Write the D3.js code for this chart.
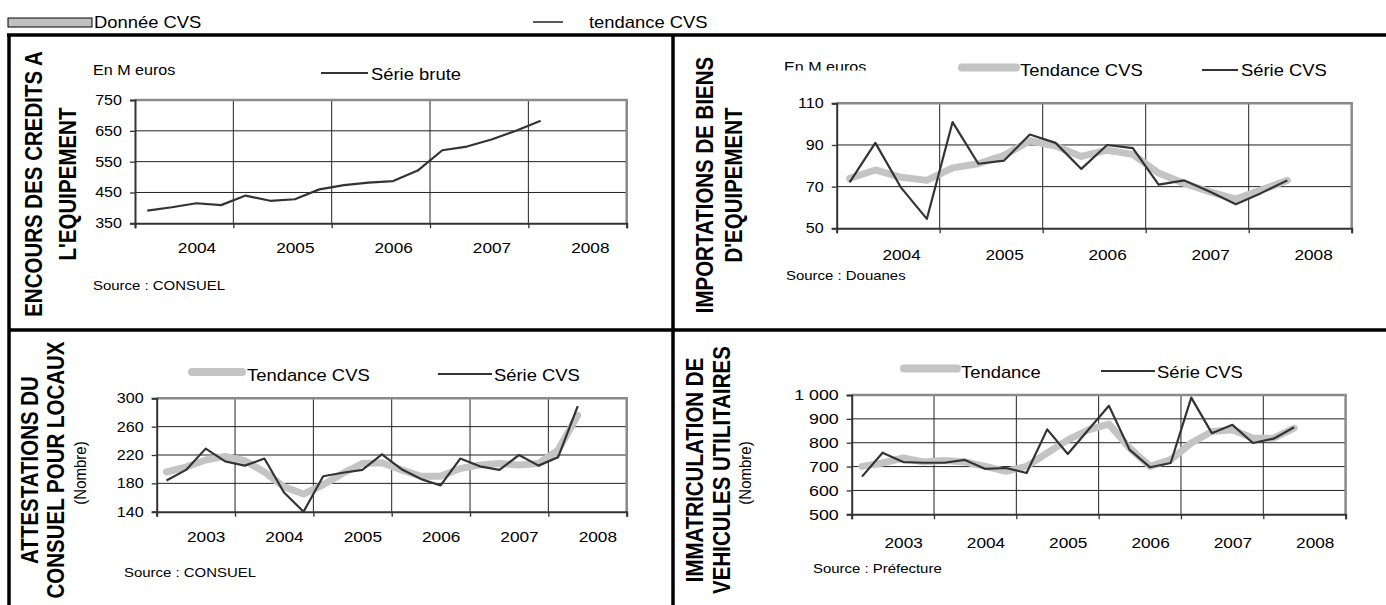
<!DOCTYPE html>
<html>
<head>
<meta charset="utf-8">
<title>Indicateurs biens d'équipement</title>
<script src="https://d3js.org/d3.v7.min.js"></script>
<style>
  body { margin: 0; background: #fff; }
  svg text { font-family: "Liberation Sans", Arial, sans-serif; fill: #000; }
</style>
</head>
<body>
<svg width="1386" height="605"></svg>
<script>
// valeurs trimestrielles
const yearsEncours = ["2004", "2005", "2006", "2007", "2008"];
const encoursBrute = [391, 402, 415, 409, 440, 423, 428, 460, 474, 482, 487, 521, 587, 599, 622, 650, 683];
const encoursTicks = [350, 450, 550, 650, 750];

const yearsImport = ["2004", "2005", "2006", "2007", "2008"];
const importCvs = [72, 91, 69.5, 54.5, 101, 81, 82.5, 95, 91, 78.5, 90, 88.5, 71, 73, 67.5, 61.5, 67, 73];
const importTendance = [74, 78, 74.5, 73, 79, 81, 85, 92, 89.5, 84.5, 87.5, 85.5, 76.5, 71.5, 67.5, 64, 68.5, 73];
const importTicks = [50, 70, 90, 110];

const yearsConsuel = ["2003", "2004", "2005", "2006", "2007", "2008"];
const consuelCvs = [184, 199, 229, 211, 205, 215, 167, 140, 190, 195, 199, 221, 200, 186, 177, 215, 204, 199, 220, 205, 217, 289];
const consuelTendance = [196, 203, 213, 218, 212, 196, 175, 165, 178, 194, 208, 209, 199, 190, 190, 201, 206, 208, 206, 208, 227, 276];
const consuelTicks = [140, 180, 220, 260, 300];

const yearsImmat = ["2003", "2004", "2005", "2006", "2007", "2008"];
const immatCvs = [658, 758, 719, 716, 716, 728, 690, 694, 673, 856, 753, 854, 955, 771, 697, 715, 989, 840, 875, 799, 817, 865];
const immatTendance = [701, 715, 736, 719, 725, 719, 701, 680, 701, 757, 812, 854, 878, 778, 701, 729, 799, 847, 854, 819, 819, 861];
const immatTicks = [500, 600, 700, 800, 900, 1000];

// the scanned page is a little wider than tall, text looks stretched
const SX = 1.15;
const FONT_TITLE = 20.5;

const svg = d3.select("svg");

function txt(parent, x, y, s, o) {
    o = o || {};
    let tr = "translate(" + x + "," + y + ") scale(" + SX + ",1)";
    if (o.rotate) tr += " rotate(-90)";
    return parent.append("text")
        .attr("transform", tr)
        .attr("text-anchor", o.anchor || "start")
        .attr("dy", o.dy || null)
        .style("font-size", (o.size || 14) + "px")
        .style("font-weight", o.weight || "normal")
        .text(s);
}

const spaceFmt = d => d >= 1000 ? d3.format(",")(d).replace(",", " ") : String(d);

const panels = [
    {
        cell: [9, 35, 673, 330],
        plot: { x0: 135, x1: 626.7, top: 100, bottom: 223.3 },
        years: yearsEncours, ticks: encoursTicks, tickFont: 14, labelBase: 253,
        titleY: 184,
        title: [{ t: "ENCOURS DES CREDITS A", x: 34 }, { t: "L'EQUIPEMENT", x: 68 }],
        notes: [{ t: "En M euros", x: 93, y: 75, size: 14 }, { t: "Source : CONSUEL", x: 93, y: 290, size: 13 }],
        series: [{ data: encoursBrute, kind: "cvs", name: "Série brute", lx: [321, 368], ly: 73, tx: 371, ty: 79.5 }]
    },
    {
        cell: [673, 35, 1386, 330],
        plot: { x0: 836.7, x1: 1351.7, top: 103.3, bottom: 228.3 },
        years: yearsImport, ticks: importTicks, tickFont: 14, labelBase: 260,
        titleY: 185,
        title: [{ t: "IMPORTATIONS DE BIENS", x: 705 }, { t: "D'EQUIPEMENT", x: 734 }],
        notes: [{ t: "En M euros", x: 784, y: 72, size: 14, clip: 70.5 }, { t: "Source : Douanes", x: 786, y: 280, size: 13 }],
        series: [
            { data: importTendance, kind: "tend", name: "Tendance CVS", lx: [962, 1016], ly: 67.5, tx: 1020, ty: 76 },
            { data: importCvs, kind: "cvs", name: "Série CVS", lx: [1202, 1238], ly: 70, tx: 1241, ty: 76 }
        ]
    },
    {
        cell: [9, 330, 673, 605],
        plot: { x0: 156.7, x1: 626.7, top: 398.3, bottom: 511.7 },
        years: yearsConsuel, ticks: consuelTicks, tickFont: 14, labelBase: 541.7,
        titleY: 470,
        title: [{ t: "ATTESTATIONS DU", x: 30 }, { t: "CONSUEL POUR LOCAUX", x: 55.5 }],
        sub: { t: "(Nombre)", x: 80 },
        notes: [{ t: "Source : CONSUEL", x: 124, y: 577, size: 13 }],
        series: [
            { data: consuelTendance, kind: "tend", name: "Tendance CVS", lx: [192, 242], ly: 372, tx: 247, ty: 381 },
            { data: consuelCvs, kind: "cvs", name: "Série CVS", lx: [438, 492], ly: 374, tx: 494, ty: 381 }
        ]
    },
    {
        cell: [673, 330, 1386, 605],
        plot: { x0: 851.7, x1: 1345.6, top: 395, bottom: 514.3 },
        years: yearsImmat, ticks: immatTicks, tickFont: 15.5, labelBase: 548,
        titleY: 470,
        title: [{ t: "IMMATRICULATION DE", x: 695 }, { t: "VEHICULES UTILITAIRES", x: 722 }],
        sub: { t: "(Nombre)", x: 745 },
        notes: [{ t: "Source : Préfecture", x: 813, y: 573, size: 13 }],
        series: [
            { data: immatTendance, kind: "tend", name: "Tendance", lx: [904, 957], ly: 368.5, tx: 961, ty: 377.7 },
            { data: immatCvs, kind: "cvs", name: "Série CVS", lx: [1101, 1155], ly: 371, tx: 1157, ty: 377.7 }
        ]
    }
];

const defs = svg.append("defs");

panels.forEach(function (p, pi) {
    const c = p.cell;
    defs.append("clipPath").attr("id", "cell" + pi)
        .append("rect").attr("x", c[0]).attr("y", c[1]).attr("width", c[2] - c[0]).attr("height", c[3] - c[1]);
    const g = svg.append("g").attr("clip-path", "url(#cell" + pi + ")");

    // rotated titles
    p.title.forEach(function (t) {
        txt(g, t.x, p.titleY, t.t, { rotate: true, anchor: "middle", dy: "0.35em", size: FONT_TITLE, weight: "bold" });
    });
    if (p.sub) txt(g, p.sub.x, p.titleY + 3, p.sub.t, { rotate: true, anchor: "middle", dy: "0.35em", size: 15 });

    p.notes.forEach(function (n, ni) {
        let host = g;
        if (n.clip) {
            const id = "note" + pi + "_" + ni;
            defs.append("clipPath").attr("id", id)
                .append("rect").attr("x", n.x - 5).attr("y", n.y - 30).attr("width", 200).attr("height", n.clip - (n.y - 30));
            host = g.append("g").attr("clip-path", "url(#" + id + ")");
        }
        txt(host, n.x, n.y, n.t, { size: n.size });
    });

    const nq = p.years.length * 4;
    const x = d3.scaleLinear().domain([0, nq]).range([p.plot.x0, p.plot.x1]);
    const y = d3.scaleLinear().domain([d3.min(p.ticks), d3.max(p.ticks)]).range([p.plot.bottom, p.plot.top]);

    // grid
    g.append("g").selectAll("line").data(p.ticks.slice(1, -1)).join("line")
        .attr("x1", x(0)).attr("x2", x(nq)).attr("y1", d => y(d)).attr("y2", d => y(d))
        .attr("stroke", "#222").attr("stroke-width", 1);
    g.append("g").selectAll("line").data(d3.range(4, nq, 4)).join("line")
        .attr("x1", d => x(d)).attr("x2", d => x(d)).attr("y1", y.range()[1]).attr("y2", y.range()[0])
        .attr("stroke", "#222").attr("stroke-width", 1);
    // top + right border of plot area
    g.append("path")
        .attr("d", "M" + x(0) + "," + y(d3.max(p.ticks)) + "H" + x(nq) + "V" + y(d3.min(p.ticks)))
        .attr("fill", "none").attr("stroke", "#8a8a8a").attr("stroke-width", 2.5);

    // axes
    const ya = g.append("g").attr("transform", "translate(" + x(0) + ",0)")
        .call(d3.axisLeft(y).tickValues(p.ticks).tickSize(5).tickPadding(8).tickFormat(spaceFmt));
    ya.selectAll("text").each(function () {
        const t = d3.select(this);
        t.attr("x", +t.attr("x") / SX);
    }).attr("transform", "scale(" + SX + ",1)").style("font-size", p.tickFont + "px").attr("font-family", null);

    const xa = g.append("g").attr("transform", "translate(0," + y(d3.min(p.ticks)) + ")")
        .call(d3.axisBottom(x).tickValues(d3.range(0, nq + 1, 4)).tickSize(5).tickFormat(""));

    [ya, xa].forEach(function (a) {
        a.select(".domain").attr("stroke", "#333").attr("stroke-width", 2);
        a.selectAll(".tick line").attr("stroke", "#333").attr("stroke-width", 1.3);
    });

    const xl = g.append("g").attr("transform", "translate(0," + y(d3.min(p.ticks)) + ")")
        .call(d3.axisBottom(x).tickValues(d3.range(p.years.length).map(i => 4 * i + 2.5))
            .tickSize(0).tickPadding(0).tickFormat((d, i) => p.years[i]));
    xl.select(".domain").remove();
    xl.selectAll("text")
        .attr("y", p.labelBase - y(d3.min(p.ticks))).attr("dy", null)
        .attr("transform", "scale(" + SX + ",1)").style("font-size", "15px");

    // series
    const line = d3.line().x((d, i) => x(i + 0.5)).y(d => y(d));
    p.series.forEach(function (s) {
        const tend = s.kind === "tend";
        g.append("path").datum(s.data)
            .attr("d", line)
            .attr("fill", "none")
            .attr("stroke", tend ? "#c4c4c4" : "#333")
            .attr("stroke-width", tend ? 7 : 2.2)
            .attr("stroke-linejoin", "round")
            .attr("stroke-linecap", tend ? "round" : "butt");
        // legend entry
        g.append("line")
            .attr("x1", s.lx[0]).attr("x2", s.lx[1]).attr("y1", s.ly).attr("y2", s.ly)
            .attr("stroke", tend ? "#c4c4c4" : "#333")
            .attr("stroke-width", tend ? 8 : 2.2)
            .attr("stroke-linecap", tend ? "round" : "butt");
        txt(g, s.tx, s.ty, s.name, { size: 16 });
    });
});

// top legend
svg.append("rect").attr("x", 8).attr("y", 18).attr("width", 84).attr("height", 9)
    .attr("fill", "#c0c0c0").attr("stroke", "#000").attr("stroke-width", 1);
txt(svg, 94, 28, "Donnée CVS", { size: 16 });
svg.append("line").attr("x1", 533).attr("x2", 563).attr("y1", 22).attr("y2", 22)
    .attr("stroke", "#000").attr("stroke-width", 1.3);
txt(svg, 589, 28, "tendance CVS", { size: 16 });

// frame of the page
const frame = [
    [7, 35, 1386, 35],
    [9, 35, 9, 605],
    [673, 35, 673, 605],
    [9, 330, 1386, 330]
];
svg.append("g").selectAll("line").data(frame).join("line")
    .attr("x1", d => d[0]).attr("y1", d => d[1]).attr("x2", d => d[2]).attr("y2", d => d[3])
    .attr("stroke", "#000").attr("stroke-width", 3.5);
</script>
</body>
</html>
